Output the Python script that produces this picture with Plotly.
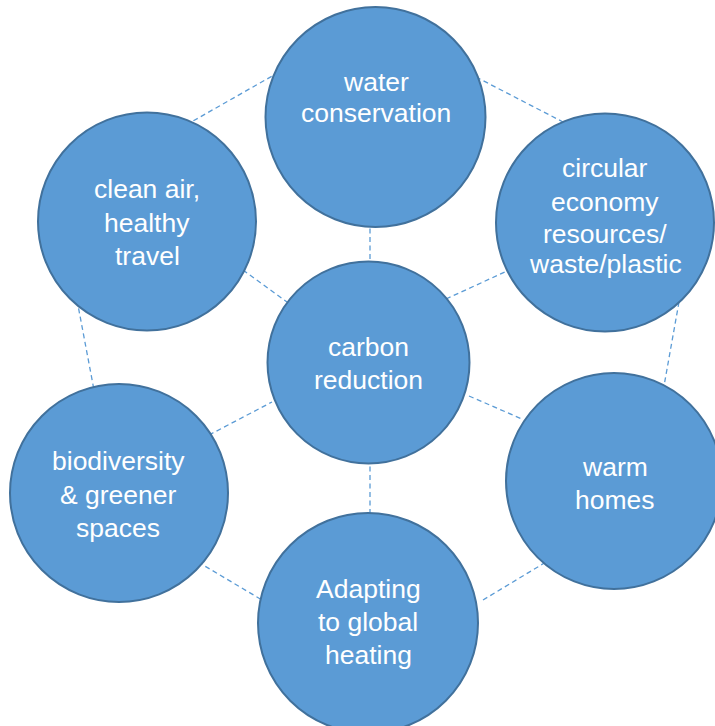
import plotly.graph_objects as go

# ---- data (labels) ----
node_names = ["water", "clean_air", "circular", "carbon", "biodiversity", "warm", "adapting"]
node_labels = [
    ["water", "conservation"],
    ["clean air,", "healthy", "travel"],
    ["circular", "economy", "resources/", "waste/plastic"],
    ["carbon", "reduction"],
    ["biodiversity", "& greener", "spaces"],
    ["warm", "homes"],
    ["Adapting", "to global", "heating"],
]

# ---- layout (pixel space) ----
node_center = {
    "water": (375.5, 117), "clean_air": (147, 221.5), "circular": (605, 222.5),
    "carbon": (368.5, 362.5), "biodiversity": (119, 493), "warm": (614, 481),
    "adapting": (368, 623),
}
node_radius = {
    "water": 110, "clean_air": 109, "circular": 109, "carbon": 101,
    "biodiversity": 109, "warm": 108, "adapting": 110,
}
# y of each text line
text_lines_y = {
    "water": [82, 113], "clean_air": [189, 223, 256],
    "circular": [168, 202, 234, 264], "carbon": [347, 380],
    "biodiversity": [461, 495, 528], "warm": [467, 500],
    "adapting": [589, 622, 655],
}
text_x = {"water": 376, "clean_air": 147, "circular": 605, "carbon": 368,
          "biodiversity": 118, "warm": 615, "adapting": 368}

# dashed connector segments (visible parts, slightly extended under circles)
connectors = [
    ((186, 125), (274, 75)),
    ((476, 77), (565, 123)),
    ((77, 300), (94, 390)),
    ((679, 302), (664, 386)),
    ((198, 562), (262, 600)),
    ((483, 600), (546, 562)),
    ((370, 220), (370, 266)),
    ((243, 270), (287, 302)),
    ((446, 299), (507, 271)),
    ((209, 435), (272, 402)),
    ((469, 396), (522, 419)),
    ((370, 458), (370, 517)),
]

W, H = 715, 726
fig = go.Figure()
fig.add_trace(go.Scatter(x=[0, W], y=[0, H], mode="markers",
                         marker=dict(opacity=0), hoverinfo="skip", showlegend=False))

shapes = []
for (x0, y0), (x1, y1) in connectors:
    shapes.append(dict(type="line", x0=x0, y0=y0, x1=x1, y1=y1, xref="x", yref="y",
                       line=dict(color="#5B9BD5", width=1.3, dash="5px,3.5px")))
for n in node_names:
    cx, cy = node_center[n]
    r = node_radius[n]
    shapes.append(dict(type="circle", xref="x", yref="y",
                       x0=cx - r, x1=cx + r, y0=cy - r, y1=cy + r,
                       fillcolor="#5B9BD5", line=dict(color="#41719C", width=2)))

annotations = []
for n, lines in zip(node_names, node_labels):
    for line, y in zip(lines, text_lines_y[n]):
        annotations.append(dict(x=text_x[n], y=y, xref="x", yref="y", text=line,
                                showarrow=False, xanchor="center", yanchor="middle",
                                font=dict(family="Liberation Sans, Arial, sans-serif",
                                          size=26.5, color="#FFFFFF")))

fig.update_layout(
    width=W, height=H, margin=dict(l=0, r=0, t=0, b=0),
    paper_bgcolor="white", plot_bgcolor="white",
    xaxis=dict(range=[0, W], visible=False, fixedrange=True),
    yaxis=dict(range=[H, 0], visible=False, fixedrange=True),
    shapes=shapes, annotations=annotations, showlegend=False,
)
fig.write_html("out.html", config={"displayModeBar": False},
               post_script="document.body.style.margin='0';document.body.style.overflow='hidden';")
